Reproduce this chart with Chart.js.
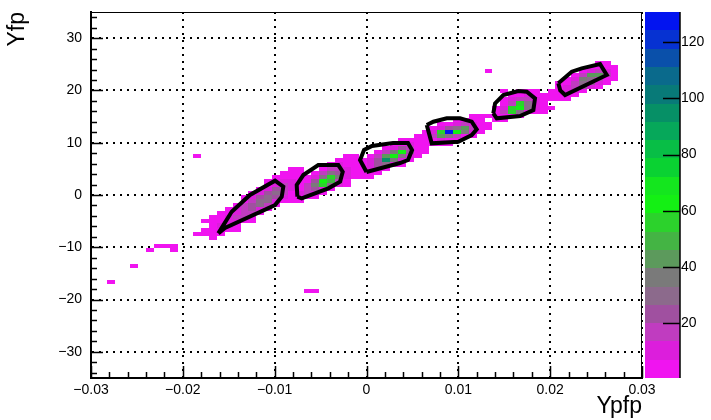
<!DOCTYPE html>
<html>
<head>
<meta charset="utf-8">
<script src="https://cdn.jsdelivr.net/npm/chart.js@4.4.1/dist/chart.umd.min.js"></script>
<style>
  html, body { margin: 0; padding: 0; background: #fff; }
</style>
</head>
<body>
<canvas id="c" width="711" height="420"></canvas>
<script>
// TH2 binning
const xMin = -0.03, xMax = 0.03, nX = 70;
const yMin = -35, yMax = 35, nY = 90;
const zMin = 0.55, zMax = 130.7;

const xTicks = [-0.03, -0.02, -0.01, 0, 0.01, 0.02, 0.03];
const yTicks = [-30, -20, -10, 0, 10, 20, 30];
const zTicks = [20, 40, 60, 80, 100, 120];

// bin contents, one entry per run: [iy, first ix, counts]
const blob1 = [
  [34, 15, [2]],
  [35, 14, [1, 3, 4]],
  [36, 14, [2, 1, 5, 6, 2]],
  [37, 15, [3, 8, 9, 4]],
  [38, 14, [2, 1, 4, 10, 12, 5, 1]],
  [39, 15, [1, 2, 9, 14, 15, 6]],
  [40, 16, [1, 5, 13, 18, 16, 4]],
  [41, 17, [3, 9, 20, 24, 12, 3]],
  [42, 18, [4, 14, 26, 30, 14, 2]],
  [43, 19, [6, 18, 30, 28, 10, 2]],
  [44, 19, [2, 8, 22, 32, 24, 8]],
  [45, 20, [3, 10, 24, 29, 16]],
  [46, 21, [4, 12, 22, 20, 9]],
  [47, 22, [5, 12, 16, 12]],
  [48, 22, [1, 4, 8, 10, 7]],
  [49, 23, [2, 4, 6, 5]],
  [50, 24, [2, 3, 3]],
  [51, 25, [1, 2]]
];
const blob2 = [
  [43, 25, [2, 3]],
  [44, 25, [3, 6, 4, 1]],
  [45, 25, [2, 8, 14, 8, 2]],
  [46, 26, [6, 18, 24, 12, 3]],
  [47, 26, [3, 14, 34, 58, 30, 8, 1]],
  [48, 27, [6, 22, 60, 48, 20, 4]],
  [49, 27, [2, 10, 30, 56, 34, 10, 2]],
  [50, 28, [4, 14, 30, 24, 10, 3]],
  [51, 29, [6, 16, 18, 9, 2]],
  [52, 30, [4, 8, 6, 3]],
  [53, 31, [2, 4, 3]],
  [54, 32, [1, 2]]
];
const blob3 = [
  [49, 34, [2, 1]],
  [50, 34, [3, 5, 2]],
  [51, 34, [4, 10, 8, 3]],
  [52, 34, [2, 8, 22, 30, 12, 3]],
  [53, 34, [3, 10, 26, 98, 36, 12, 3]],
  [54, 35, [4, 18, 40, 64, 30, 10, 2]],
  [55, 36, [3, 16, 34, 60, 22, 6, 2]],
  [56, 37, [3, 12, 24, 16, 6, 2]],
  [57, 38, [2, 6, 8, 4, 1]],
  [58, 39, [1, 3, 2]]
];
const blob4 = [
  [57, 43, [3, 4, 1]],
  [58, 42, [2, 5, 8, 6, 2]],
  [59, 41, [2, 4, 14, 40, 30, 18, 6, 2]],
  [60, 42, [3, 12, 58, 126, 62, 36, 12, 3]],
  [61, 43, [2, 8, 22, 30, 42, 20, 6, 2]],
  [62, 44, [2, 3, 8, 14, 10, 4, 2]],
  [63, 46, [2, 4, 3, 2]],
  [64, 48, [1, 2]]
];
const blob5 = [
  [63, 51, [2, 3]],
  [64, 50, [1, 3, 6, 4, 2]],
  [65, 51, [4, 14, 56, 30, 8, 3, 1]],
  [66, 51, [2, 10, 54, 62, 30, 12, 4, 2]],
  [67, 52, [6, 18, 58, 30, 12, 5]],
  [68, 52, [2, 8, 16, 20, 10, 3]],
  [69, 53, [3, 6, 8, 4, 2]],
  [70, 52, [2, 0, 2, 3, 2]]
];
const blob6 = [
  [68, 58, [2, 3, 2]],
  [69, 58, [3, 5, 4, 2]],
  [70, 58, [2, 6, 10, 8, 3]],
  [71, 59, [3, 8, 18, 22, 10, 3]],
  [72, 59, [2, 4, 14, 30, 26, 12, 4]],
  [73, 60, [2, 8, 36, 30, 16, 6, 3]],
  [74, 61, [4, 14, 44, 40, 16, 6]],
  [75, 62, [3, 10, 18, 12, 6]],
  [76, 63, [2, 4, 6, 3]],
  [77, 64, [1, 2]]
];
const strays = [
  [23, 2, [1]],
  [27, 5, [1]],
  [31, 7, [1]],
  [32, 8, [1, 1, 1]],
  [31, 10, [1]],
  [35, 13, [1]],
  [54, 13, [1]],
  [21, 27, [1, 1]],
  [75, 50, [1]]
];

// graphical cuts
const cut1 = [[-0.01614, -7.33], [-0.01468, -3.2], [-0.01269, 0.0], [-0.00996, 2.73], [-0.00906, 1.58], [-0.00923, -0.33], [-0.00996, -1.92], [-0.01541, -6.31]];
const cut2 = [[-0.00753, -0.33], [-0.0076, 1.91], [-0.00688, 3.82], [-0.00525, 5.73], [-0.00307, 5.73], [-0.00259, 4.45], [-0.00288, 2.54], [-0.00416, 1.28], [-0.00706, -0.63]];
const cut3 = [[0.0, 4.4], [-0.0007, 6.69], [-0.00027, 8.6], [0.0006, 9.37], [0.00289, 9.94], [0.00452, 9.94], [0.00496, 8.6], [0.00452, 6.69], [0.00365, 6.12]];
const cut4 = [[0.00656, 13.38], [0.00728, 14.02], [0.00874, 14.67], [0.01018, 14.67], [0.01146, 14.02], [0.012, 12.56], [0.01146, 11.47], [0.01, 10.19], [0.0071, 9.88]];
const cut5 = [[0.01381, 15.62], [0.014, 17.53], [0.0149, 19.12], [0.01653, 19.89], [0.01745, 19.75], [0.01835, 18.49], [0.01817, 16.25], [0.01672, 15.1], [0.01418, 14.67]];
const cut6 = [[0.02089, 21.36], [0.02235, 23.58], [0.02344, 24.23], [0.02543, 25.05], [0.02616, 22.95], [0.02162, 19.12], [0.0211, 20.0]];

// palette, bottom (low) to top (high)
const palette = ['#f014f0', '#dc1edc', '#c03cc0', '#a050a0', '#8c6a8c', '#7a7a7a', '#5c9a5c', '#44b444',
  '#2cd22c', '#14f014', '#14e61e', '#0ad232', '#08be46', '#06a85a', '#069066', '#087a78',
  '#0a6a8c', '#0a50aa', '#0632d2', '#0214f0'];

const FONT = 'Liberation Sans, Arial, sans-serif';
const minus = v => (v < 0 ? '\u2212' : '');

function colourFor(n) {
  let k = Math.floor((n - zMin) / (zMax - zMin) * palette.length);
  return palette[Math.max(0, Math.min(palette.length - 1, k))];
}

// keep the frame where ROOT puts it, whatever the tick labels want
function pin(size) {
  return s => {
    if (s.isHorizontal()) s.height = size; else s.width = size;
    s.paddingTop = 0; s.paddingBottom = 0; s.paddingLeft = 0; s.paddingRight = 0;
  };
}

const histPlugin = {
  id: 'hist',
  beforeDatasetsDraw(chart) {
    const { ctx, scales: { x, y } } = chart;
    const dx = (xMax - xMin) / nX, dy = (yMax - yMin) / nY;
    ctx.save();
    for (const blob of [blob1, blob2, blob3, blob4, blob5, blob6, strays]) {
      for (const [iy, ix0, counts] of blob) {
        counts.forEach((n, k) => {
          if (n <= 0) return;
          const ix = ix0 + k;
          const l = Math.round(x.getPixelForValue(xMin + ix * dx));
          const r = Math.round(x.getPixelForValue(xMin + (ix + 1) * dx));
          const t = Math.round(y.getPixelForValue(yMin + (iy + 1) * dy));
          const b = Math.round(y.getPixelForValue(yMin + iy * dy));
          ctx.fillStyle = colourFor(n);
          ctx.fillRect(l, t, r - l, b - t);
        });
      }
    }
    ctx.restore();
  },
  afterDraw(chart) {
    const { ctx, chartArea: a, scales: { x, y, z } } = chart;
    ctx.save();
    ctx.strokeStyle = '#000';
    // frame top/right
    ctx.lineWidth = 1;
    ctx.beginPath();
    ctx.moveTo(a.left, a.top + 0.5); ctx.lineTo(a.right, a.top + 0.5);
    ctx.moveTo(a.right - 0.5, a.top); ctx.lineTo(a.right - 0.5, a.bottom);
    ctx.stroke();
    // inner ticks
    ctx.lineWidth = 1.5;
    ctx.beginPath();
    for (let k = -15; k <= 15; k++) {
      const px = Math.round(x.getPixelForValue(k * 0.002)) + 0.5;
      const len = k % 5 === 0 ? 12 : 6;
      ctx.moveTo(px, a.bottom); ctx.lineTo(px, a.bottom - len);
    }
    for (let k = -17; k <= 17; k++) {
      const py = Math.round(y.getPixelForValue(k * 2)) + 0.5;
      const len = k % 5 === 0 ? 12 : 6;
      ctx.moveTo(a.left, py); ctx.lineTo(a.left + len, py);
    }
    ctx.stroke();
    // colour bar
    const bl = a.right + 3, br = a.right + 38;
    const step = (zMax - zMin) / palette.length;
    palette.forEach((c, i) => {
      const y0 = Math.round(z.getPixelForValue(zMin + i * step));
      const y1 = Math.round(z.getPixelForValue(zMin + (i + 1) * step));
      ctx.fillStyle = c;
      ctx.fillRect(bl, y1, br - bl, y0 - y1);
    });
    ctx.lineWidth = 1.5;
    ctx.beginPath();
    ctx.moveTo(br, a.top); ctx.lineTo(br, a.bottom);
    for (const v of zTicks) {
      const py = Math.round(z.getPixelForValue(v)) + 0.5;
      ctx.moveTo(br - 17, py); ctx.lineTo(br, py);
    }
    ctx.stroke();
    ctx.restore();
  }
};

const cuts = [cut1, cut2, cut3, cut4, cut5, cut6];

new Chart(document.getElementById('c').getContext('2d'), {
  type: 'scatter',
  data: {
    datasets: cuts.map(c => ({
      data: c.concat([c[0]]).map(([px, py]) => ({ x: px, y: py })),
      showLine: true,
      fill: false,
      borderColor: '#000',
      borderWidth: 4,
      pointRadius: 0,
      tension: 0
    }))
  },
  options: {
    responsive: false,
    animation: false,
    events: [],
    layout: { padding: { top: 12, left: 0, right: 0, bottom: 0 } },
    plugins: { legend: { display: false }, tooltip: { enabled: false } },
    scales: {
      x: {
        type: 'linear', min: xMin, max: xMax,
        afterBuildTicks: s => { s.ticks = xTicks.map(v => ({ value: v })); },
        afterFit: pin(42),
        grid: { color: '#000', lineWidth: 2, drawTicks: false },
        border: { display: true, color: '#000', width: 2, dash: [2, 5] },
        ticks: {
          color: '#000', font: { family: FONT, size: 14 }, padding: 4, maxRotation: 0, autoSkip: false,
          callback: v => (v === 0 ? '0' : minus(v) + Math.abs(v).toFixed(2))
        },
        title: { display: true, text: 'Ypfp', align: 'end', color: '#000', font: { family: FONT, size: 23 }, padding: 0 }
      },
      y: {
        type: 'linear', min: yMin, max: yMax,
        afterBuildTicks: s => { s.ticks = yTicks.map(v => ({ value: v })); },
        afterFit: pin(91),
        grid: { color: '#000', lineWidth: 2, drawTicks: false },
        border: { display: true, color: '#000', width: 2, dash: [2, 5] },
        ticks: {
          color: '#000', font: { family: FONT, size: 14 }, padding: 9, autoSkip: false,
          callback: v => minus(v) + Math.abs(v)
        },
        title: { display: true, text: 'Yfp', align: 'end', color: '#000', font: { family: FONT, size: 23 }, padding: { top: 4, bottom: 0 } }
      },
      z: {
        type: 'linear', axis: 'y', position: 'right', min: zMin, max: zMax,
        afterBuildTicks: s => { s.ticks = zTicks.map(v => ({ value: v })); },
        afterFit: pin(69),
        grid: { display: false, drawTicks: false },
        border: { display: false },
        ticks: { color: '#000', font: { family: FONT, size: 14 }, padding: 39, autoSkip: false }
      }
    }
  },
  plugins: [histPlugin]
});
</script>
</body>
</html>
